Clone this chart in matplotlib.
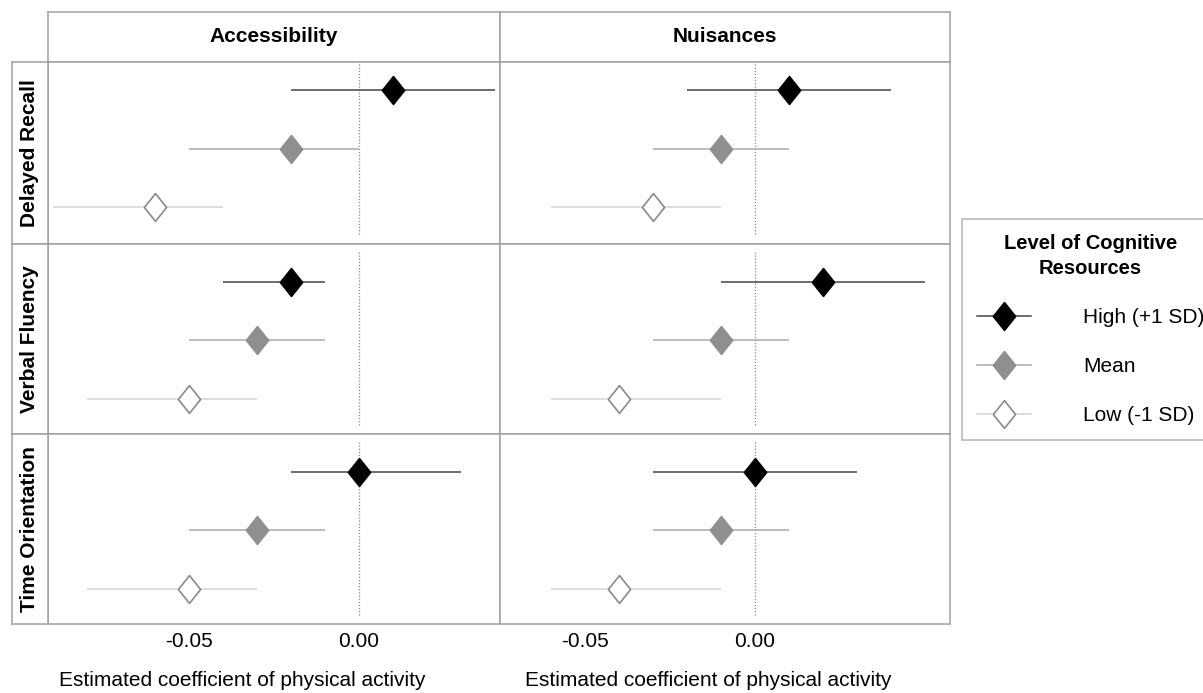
import numpy as np
import matplotlib
matplotlib.use('Agg')
import matplotlib.pyplot as plt
from matplotlib.lines import Line2D
from matplotlib.path import Path
from matplotlib.ticker import FixedLocator, FormatStrFormatter

plt.rcParams['font.family'] = ['Liberation Sans', 'DejaVu Sans']
plt.rcParams['axes.unicode_minus'] = False
plt.rcParams['font.size'] = 15

# Datos
facets = ['Accessibility', 'Nuisances']
measures = ['Delayed Recall', 'Verbal Fluency', 'Time Orientation']
levels = ['High (+1 SD)', 'Mean', 'Low (-1 SD)']

# filas = medidas, columnas = niveles (High, Mean, Low)
access_est = np.array([[0.01, -0.02, -0.06],
                       [-0.02, -0.03, -0.05],
                       [0.00, -0.03, -0.05]])
access_lo = np.array([[-0.02, -0.05, -0.09],
                      [-0.04, -0.05, -0.08],
                      [-0.02, -0.05, -0.08]])
access_hi = np.array([[0.04, 0.00, -0.04],
                      [-0.01, -0.01, -0.03],
                      [0.03, -0.01, -0.03]])

nuis_est = np.array([[0.01, -0.01, -0.03],
                     [0.02, -0.01, -0.04],
                     [0.00, -0.01, -0.04]])
nuis_lo = np.array([[-0.02, -0.03, -0.06],
                    [-0.01, -0.03, -0.06],
                    [-0.03, -0.03, -0.06]])
nuis_hi = np.array([[0.04, 0.01, -0.01],
                    [0.05, 0.01, -0.01],
                    [0.03, 0.01, -0.01]])

tick_values = [-0.05, 0.00]
xlabel = 'Estimated coefficient of physical activity'
legend_title = 'Level of Cognitive\nResources'

# Estilos
line_colors = ['#444444', '#aaaaaa', '#d4d4d4']
face_colors = ['black', '#8f8f8f', 'white']
edge_colors = ['black', '#8f8f8f', '#8a8a8a']
border = '#a0a0a0'
diamond = Path([(0, 1), (0.8, 0), (0, -1), (-0.8, 0), (0, 1)],
               [Path.MOVETO, Path.LINETO, Path.LINETO, Path.LINETO, Path.CLOSEPOLY])
ypos = [3, 2, 1]  # High arriba, Low abajo

W, H = 1203, 693
fig = plt.figure(figsize=(W / 100, H / 100), dpi=100)


def box(x0, y0, x1, y1):
    return [x0 / W, 1 - y1 / H, (x1 - x0) / W, (y1 - y0) / H]


def style_box(ax):
    for s in ax.spines.values():
        s.set_color(border)
        s.set_linewidth(1.1)


col_edges = [48, 500, 950]
row_edges = [62, 244, 434, 624]
row_ylims = [(0.38, 3.47), (0.4, 3.65), (0.4, 3.65)]
col_xlims = [(-0.0915, 0.0415), (-0.075, 0.0574)]
label_x = [0.43, 0.462]

data = [(access_est, access_lo, access_hi), (nuis_est, nuis_lo, nuis_hi)]

for c, facet in enumerate(facets):
    est, lo, hi = data[c]
    # cabecera de columna
    sax = fig.add_axes(box(col_edges[c], 12, col_edges[c + 1], 62))
    sax.set_xticks([])
    sax.set_yticks([])
    style_box(sax)
    sax.text(0.5, 0.5, facet, ha='center', va='center', fontweight='bold',
             transform=sax.transAxes)
    for r, measure in enumerate(measures):
        ax = fig.add_axes(box(col_edges[c], row_edges[r], col_edges[c + 1], row_edges[r + 1]))
        style_box(ax)
        ax.vlines(0, 0.55, 3.55, colors='#888888', linestyles=(0, (1, 1.5)), linewidth=0.9)
        for j in range(len(levels)):
            ax.hlines(ypos[j], lo[r, j], hi[r, j], colors=line_colors[j], linewidth=1.1)
            ax.plot(est[r, j], ypos[j], marker=diamond, markersize=20,
                    markerfacecolor=face_colors[j], markeredgecolor=edge_colors[j],
                    markeredgewidth=1.2, linestyle='none')
        ax.set_xlim(col_xlims[c])
        ax.set_ylim(row_ylims[r])
        ax.set_yticks([])
        ax.xaxis.set_major_locator(FixedLocator(tick_values))
        ax.xaxis.set_major_formatter(FormatStrFormatter('%.2f'))
        ax.tick_params(axis='x', length=0, pad=6, labelsize=15)
        if r < len(measures) - 1:
            ax.tick_params(axis='x', labelbottom=False)
        else:
            ax.set_xlabel(xlabel, fontsize=15)
            ax.xaxis.set_label_coords(label_x[c], -0.245)
        # etiqueta de fila
        if c == 0:
            rax = fig.add_axes(box(12, row_edges[r], 48, row_edges[r + 1]))
            rax.set_xticks([])
            rax.set_yticks([])
            style_box(rax)
            rax.text(0.5, 0.5, measure, ha='center', va='center', rotation=90,
                     fontweight='bold', transform=rax.transAxes)

# Leyenda
handles = [Line2D([], [], color=line_colors[j], linewidth=1.1, marker=diamond,
                  markersize=20, markerfacecolor=face_colors[j],
                  markeredgecolor=edge_colors[j], markeredgewidth=1.2)
           for j in range(len(levels))]
leg = fig.legend(handles, levels, title=legend_title, loc='upper left',
                 bbox_to_anchor=(962 / W, 1 - 219 / H), borderaxespad=0,
                 fontsize=15, title_fontproperties={'weight': 'bold', 'size': 14.5},
                 handlelength=2.6, handletextpad=2.5, labelspacing=1.45,
                 fancybox=False, frameon=True, borderpad=0.7)
leg.get_title().set_multialignment('center')
leg.get_title().set_linespacing(1.4)
leg.get_frame().set_edgecolor(border)
leg.get_frame().set_linewidth(1.1)

fig.savefig('out.png', dpi=100)
